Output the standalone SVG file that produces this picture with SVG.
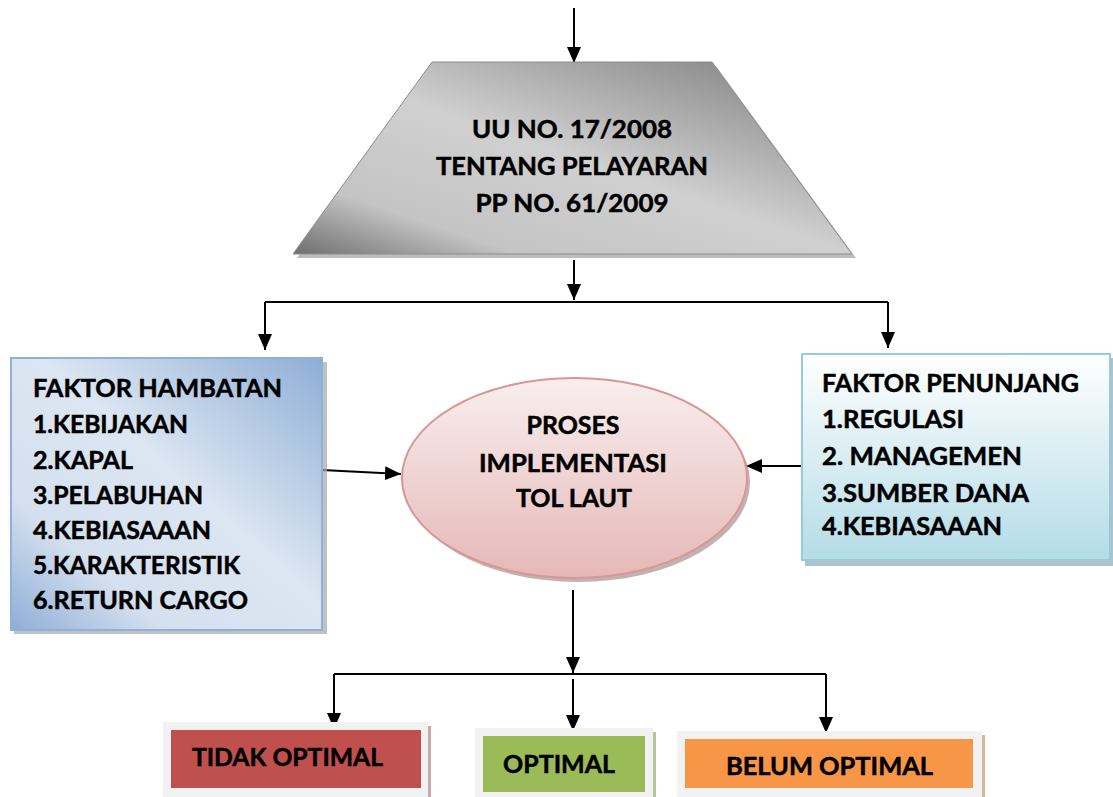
<svg xmlns="http://www.w3.org/2000/svg" width="1113" height="797" viewBox="0 0 1113 797">
<defs>
<linearGradient id="gGray" x1="1" y1="0" x2="0" y2="1">
<stop offset="0" stop-color="#7a7a7a"/><stop offset="0.5" stop-color="#d0d0d0"/><stop offset="0.8" stop-color="#c4c4c4"/><stop offset="1" stop-color="#6e6e6e"/>
</linearGradient>
<linearGradient id="gBlue" x1="1" y1="0" x2="0" y2="1">
<stop offset="0" stop-color="#8eaed6"/><stop offset="0.45" stop-color="#dce6f2"/><stop offset="0.75" stop-color="#d5e0ef"/><stop offset="1" stop-color="#8eaed6"/>
</linearGradient>
<linearGradient id="gCyan" x1="0" y1="0" x2="0" y2="1">
<stop offset="0" stop-color="#ffffff"/><stop offset="1" stop-color="#b4dce7"/>
</linearGradient>
<linearGradient id="gPink" x1="0" y1="0" x2="0" y2="1">
<stop offset="0" stop-color="#f9eeee"/><stop offset="1" stop-color="#e5b8b7"/>
</linearGradient>
<marker id="ah" markerUnits="userSpaceOnUse" markerWidth="16" markerHeight="16" viewBox="0 0 16 16" refX="16" refY="8" orient="auto">
<path d="M0,1 L16,8 L0,15 Z" fill="#000"/>
</marker>
</defs>
<style>
text{font-family:Lato,"Open Sans","Liberation Sans",sans-serif;font-weight:700;font-size:25px;fill:#000;stroke:#000;stroke-width:0.5px}
.c{text-anchor:middle}
.ln{stroke:#000;stroke-width:2;fill:none}
.ar{stroke:#000;stroke-width:2;fill:none;marker-end:url(#ah)}
</style>

<g id="connectors">
<line class="ar" x1="574" y1="8" x2="574" y2="63"/>
<line class="ar" x1="574" y1="260" x2="574" y2="300"/>
<polyline class="ln" points="265,302 888,302"/>
<line class="ar" x1="265" y1="302" x2="265" y2="350"/>
<line class="ar" x1="888" y1="302" x2="888" y2="348"/>
<line class="ar" x1="322" y1="470" x2="401" y2="474"/>
<line class="ar" x1="802" y1="466" x2="746" y2="466"/>
<line class="ar" x1="573" y1="590" x2="573" y2="673"/>
<polyline class="ln" points="334,674 826,674"/>
<polyline class="ar" points="334,674 334,729"/>
<line class="ar" x1="573" y1="679" x2="573" y2="731"/>
<polyline class="ar" points="826,674 826,733"/>
</g>

<g id="node-uu">
<polygon points="436,66 716,66 856,258 297,258" fill="#bdbdbd"/>
<polygon points="432,62 712,62 852,254 293,254" fill="url(#gGray)" stroke="#8c8c8c" stroke-width="1"/>
<text class="c" x="572" y="138" textLength="200" lengthAdjust="spacingAndGlyphs">UU NO. 17/2008</text>
<text class="c" x="572" y="175" textLength="272" lengthAdjust="spacingAndGlyphs">TENTANG PELAYARAN</text>
<text class="c" x="572" y="212" textLength="193" lengthAdjust="spacingAndGlyphs">PP NO. 61/2009</text>
</g>

<g id="node-hambatan">
<rect x="14" y="362" width="313" height="272" fill="#a6a6a6" opacity="0.7"/>
<rect x="11" y="358" width="311" height="272" fill="url(#gBlue)" stroke="#8fb0d8" stroke-width="2"/>
<text x="33" y="397" textLength="249" lengthAdjust="spacingAndGlyphs">FAKTOR HAMBATAN</text>
<text x="33" y="433" textLength="155" lengthAdjust="spacingAndGlyphs">1.KEBIJAKAN</text>
<text x="33" y="469" textLength="100" lengthAdjust="spacingAndGlyphs">2.KAPAL</text>
<text x="33" y="504" textLength="170" lengthAdjust="spacingAndGlyphs">3.PELABUHAN</text>
<text x="33" y="539" textLength="178" lengthAdjust="spacingAndGlyphs">4.KEBIASAAAN</text>
<text x="33" y="574" textLength="207" lengthAdjust="spacingAndGlyphs">5.KARAKTERISTIK</text>
<text x="33" y="609" textLength="215" lengthAdjust="spacingAndGlyphs">6.RETURN CARGO</text>
</g>

<g id="node-penunjang">
<rect x="805" y="358" width="308" height="208" fill="#9ab4bb" opacity="0.8"/>
<rect x="802" y="354" width="308" height="206" fill="url(#gCyan)" stroke="#93cddd" stroke-width="2"/>
<text x="822" y="392" textLength="257" lengthAdjust="spacingAndGlyphs">FAKTOR PENUNJANG</text>
<text x="822" y="428" textLength="142" lengthAdjust="spacingAndGlyphs">1.REGULASI</text>
<text x="822" y="465" textLength="200" lengthAdjust="spacingAndGlyphs">2. MANAGEMEN</text>
<text x="822" y="502" textLength="207" lengthAdjust="spacingAndGlyphs">3.SUMBER DANA</text>
<text x="822" y="535" textLength="180" lengthAdjust="spacingAndGlyphs">4.KEBIASAAAN</text>
</g>

<g id="node-proses">
<ellipse cx="578" cy="482" rx="172" ry="100" fill="#b3a0a0" opacity="0.8"/>
<ellipse cx="574.5" cy="478" rx="172.5" ry="100" fill="url(#gPink)" stroke="#d99694" stroke-width="2"/>
<text class="c" x="573" y="434" textLength="93" lengthAdjust="spacingAndGlyphs">PROSES</text>
<text class="c" x="573" y="472" textLength="188" lengthAdjust="spacingAndGlyphs">IMPLEMENTASI</text>
<text class="c" x="574" y="507" textLength="116" lengthAdjust="spacingAndGlyphs">TOL LAUT</text>
</g>

<g id="node-tidak">
<rect x="166" y="726" width="265" height="75" fill="#c9a9a9"/>
<rect x="163" y="722" width="265" height="75" fill="#f2f2f2"/>
<rect x="171" y="730" width="250" height="58" fill="#c0504d"/>
<text x="192" y="766" textLength="191" lengthAdjust="spacingAndGlyphs">TIDAK OPTIMAL</text>
</g>

<g id="node-optimal">
<rect x="478" y="732" width="178" height="70" fill="#b5c79a"/>
<rect x="475" y="728" width="178" height="70" fill="#f2f2f2"/>
<rect x="483" y="736" width="162" height="56" fill="#9bbb59"/>
<text x="503" y="773" textLength="112" lengthAdjust="spacingAndGlyphs">OPTIMAL</text>
</g>

<g id="node-belum">
<rect x="680" y="735" width="305" height="66" fill="#d9b89a"/>
<rect x="677" y="731" width="305" height="66" fill="#f2f2f2"/>
<rect x="685" y="739" width="288" height="49" fill="#f79646"/>
<text x="726" y="775" textLength="207" lengthAdjust="spacingAndGlyphs">BELUM OPTIMAL</text>
</g>
</svg>
